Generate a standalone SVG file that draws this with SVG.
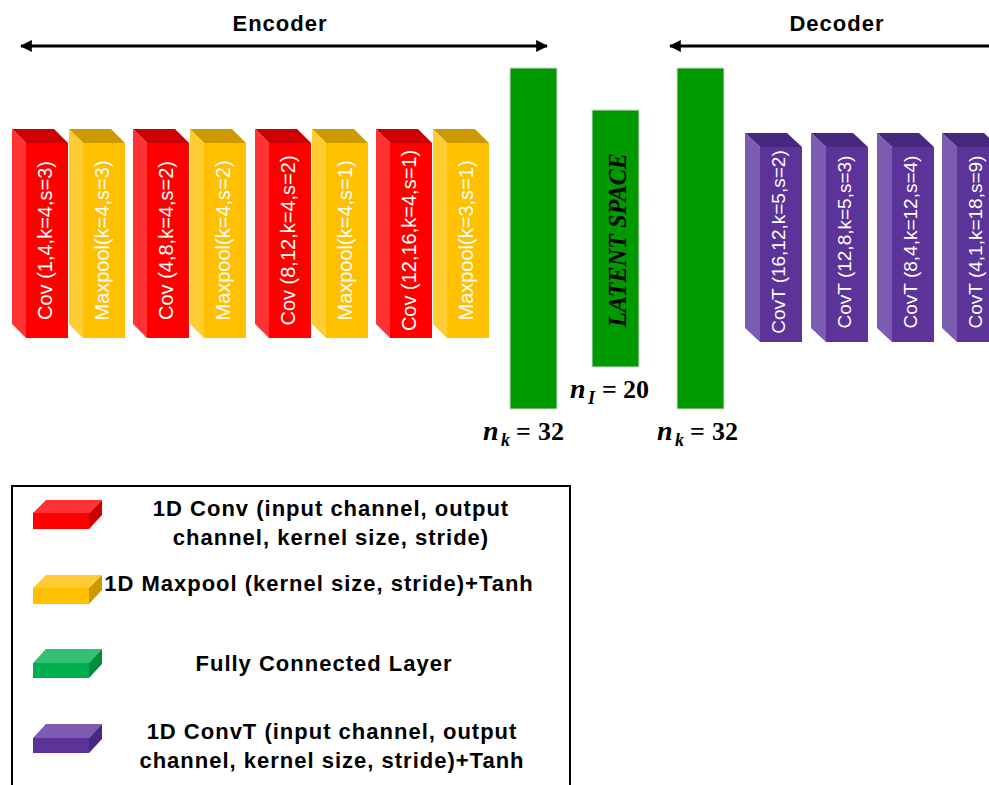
<svg xmlns="http://www.w3.org/2000/svg" width="989" height="785" viewBox="0 0 989 785">
<defs>
<style>
.lbl{font-family:"Liberation Sans",Arial,sans-serif;font-size:20px;fill:#fff;text-anchor:middle}
.dlbl{font-family:"Liberation Sans",Arial,sans-serif;font-size:19px;fill:#fff;text-anchor:middle}
.hd{font-family:"Liberation Sans",Arial,sans-serif;font-size:22px;font-weight:bold;letter-spacing:1px;fill:#000;text-anchor:middle}
.math{font-family:"Liberation Serif","DejaVu Serif",serif;font-weight:bold;fill:#000}
.rf{fill:#FF0000}.rl{fill:#FF3333}.rt{fill:#CC0000}
.yf{fill:#FFC000}.yl{fill:#FFCD33}.yt{fill:#CC9A00}
.pf{fill:#5B3399}.pl{fill:#7B5CB0}.pt{fill:#48287F}
.gf{fill:#00B050}.gl{fill:#33C073}.gt{fill:#008D40}
.fc{fill:#009900;stroke:#d8d8d8;stroke-width:1}
.arr{stroke:#000;stroke-width:3;fill:none}
</style>
<marker id="ah" viewBox="0 0 10 10" refX="9" refY="5" markerWidth="4" markerHeight="4" orient="auto-start-reverse" markerUnits="strokeWidth">
<path d="M0,0 L10,5 L0,10 Z" fill="#000"/>
</marker>
</defs>
<rect width="989" height="785" fill="#fff"/>

<g id="connectors">
<line class="arr" x1="21" y1="46" x2="547" y2="46" marker-start="url(#ah)" marker-end="url(#ah)"/>
<line class="arr" x1="670" y1="46" x2="1000" y2="46" marker-start="url(#ah)" marker-end="url(#ah)"/>
</g>

<g id="headings">
<text class="hd" x="280" y="31">Encoder</text>
<text class="hd" x="837" y="31">Decoder</text>
</g>

<!-- Encoder blocks -->
<g id="conv1">
<polygon class="rt" points="12,129 54,129 68,143 26,143"/>
<polygon class="rl" points="12,129 26,143 26,338 12,324"/>
<rect class="rf" x="26" y="143" width="42" height="195"/>
<text class="lbl" transform="translate(51.5,240.5) rotate(-90)">Cov (1,4,k=4,s=3)</text>
</g>
<g id="pool1">
<polygon class="yt" points="69,129 111,129 125,143 83,143"/>
<polygon class="yl" points="69,129 83,143 83,338 69,324"/>
<rect class="yf" x="83" y="143" width="42" height="195"/>
<text class="lbl" transform="translate(108.5,240.5) rotate(-90)">Maxpool(k=4,s=3)</text>
</g>
<g id="conv2">
<polygon class="rt" points="133,129 175,129 189,143 147,143"/>
<polygon class="rl" points="133,129 147,143 147,338 133,324"/>
<rect class="rf" x="147" y="143" width="42" height="195"/>
<text class="lbl" transform="translate(172.5,240.5) rotate(-90)">Cov (4,8,k=4,s=2)</text>
</g>
<g id="pool2">
<polygon class="yt" points="190,129 232,129 246,143 204,143"/>
<polygon class="yl" points="190,129 204,143 204,338 190,324"/>
<rect class="yf" x="204" y="143" width="42" height="195"/>
<text class="lbl" transform="translate(229.5,240.5) rotate(-90)">Maxpool(k=4,s=2)</text>
</g>
<g id="conv3">
<polygon class="rt" points="255,129 297,129 311,143 269,143"/>
<polygon class="rl" points="255,129 269,143 269,338 255,324"/>
<rect class="rf" x="269" y="143" width="42" height="195"/>
<text class="lbl" transform="translate(294.5,240.5) rotate(-90)">Cov (8,12,k=4,s=2)</text>
</g>
<g id="pool3">
<polygon class="yt" points="312,129 354,129 368,143 326,143"/>
<polygon class="yl" points="312,129 326,143 326,338 312,324"/>
<rect class="yf" x="326" y="143" width="42" height="195"/>
<text class="lbl" transform="translate(351.5,240.5) rotate(-90)">Maxpool(k=4,s=1)</text>
</g>
<g id="conv4">
<polygon class="rt" points="376,129 418,129 432,143 390,143"/>
<polygon class="rl" points="376,129 390,143 390,338 376,324"/>
<rect class="rf" x="390" y="143" width="42" height="195"/>
<text class="lbl" transform="translate(415.5,240.5) rotate(-90)">Cov (12,16,k=4,s=1)</text>
</g>
<g id="pool4">
<polygon class="yt" points="433,129 475,129 489,143 447,143"/>
<polygon class="yl" points="433,129 447,143 447,338 433,324"/>
<rect class="yf" x="447" y="143" width="42" height="195"/>
<text class="lbl" transform="translate(472.5,240.5) rotate(-90)">Maxpool(k=3,s=1)</text>
</g>

<!-- Fully connected + latent -->
<g id="fc1">
<rect class="fc" x="510" y="68" width="47" height="341"/>
<text class="math" font-size="26" x="483" y="440"><tspan font-style="italic" font-size="28">n</tspan><tspan font-style="italic" font-size="18" x="501" dy="6">k</tspan><tspan x="516" dy="-6">=</tspan><tspan x="538">32</tspan></text>
</g>
<g id="latent">
<rect class="fc" x="592" y="110" width="47" height="257"/>
<text class="math" font-style="italic" font-size="25" text-anchor="middle" textLength="174" lengthAdjust="spacingAndGlyphs" transform="translate(626,240) rotate(-90)">LATENT SPACE</text>
<text class="math" font-size="26" x="570" y="398"><tspan font-style="italic" font-size="28">n</tspan><tspan font-style="italic" font-size="18" x="588" dy="6">I</tspan><tspan x="602" dy="-6">=</tspan><tspan x="623">20</tspan></text>
</g>
<g id="fc2">
<rect class="fc" x="677" y="68" width="47" height="341"/>
<text class="math" font-size="26" x="657" y="440"><tspan font-style="italic" font-size="28">n</tspan><tspan font-style="italic" font-size="18" x="675" dy="6">k</tspan><tspan x="690" dy="-6">=</tspan><tspan x="712">32</tspan></text>
</g>

<!-- Decoder blocks -->
<g id="convT1">
<polygon class="pt" points="745,133 787,133 802,147 760,147"/>
<polygon class="pl" points="745,133 760,147 760,342 745,328"/>
<rect class="pf" x="760" y="147" width="42" height="195"/>
<text class="dlbl" transform="translate(785,242) rotate(-90)">CovT (16,12,k=5,s=2)</text>
</g>
<g id="convT2">
<polygon class="pt" points="811,133 853,133 868,147 826,147"/>
<polygon class="pl" points="811,133 826,147 826,342 811,328"/>
<rect class="pf" x="826" y="147" width="42" height="195"/>
<text class="dlbl" transform="translate(851,242) rotate(-90)">CovT (12,8,k=5,s=3)</text>
</g>
<g id="convT3">
<polygon class="pt" points="877,133 919,133 934,147 892,147"/>
<polygon class="pl" points="877,133 892,147 892,342 877,328"/>
<rect class="pf" x="892" y="147" width="42" height="195"/>
<text class="dlbl" transform="translate(917,242) rotate(-90)">CovT (8,4,k=12,s=4)</text>
</g>
<g id="convT4">
<polygon class="pt" points="942,133 984,133 999,147 957,147"/>
<polygon class="pl" points="942,133 957,147 957,342 942,328"/>
<rect class="pf" x="957" y="147" width="42" height="195"/>
<text class="dlbl" transform="translate(982,242) rotate(-90)">CovT (4,1,k=18,s=9)</text>
</g>

<!-- Legend -->
<g id="legend">
<rect x="12" y="486" width="558" height="320" fill="none" stroke="#000" stroke-width="2"/>
<g id="legend-conv">
<polygon class="rl" points="33,513 46,500 102,500 89,513"/>
<polygon class="rt" points="89,513 102,500 102,515 89,529"/>
<rect class="rf" x="33" y="513" width="56" height="16"/>
<text class="hd" x="331" y="516">1D Conv (input channel, output</text>
<text class="hd" x="331" y="545">channel, kernel size, stride)</text>
</g>
<g id="legend-pool">
<polygon class="yl" points="33,588 46,575 102,575 89,588"/>
<polygon class="yt" points="89,588 102,575 102,590 89,604"/>
<rect class="yf" x="33" y="588" width="56" height="16"/>
<text class="hd" x="319" y="591">1D Maxpool (kernel size, stride)+Tanh</text>
</g>
<g id="legend-fc">
<polygon class="gl" points="33,663 46,649 102,649 89,663"/>
<polygon class="gt" points="89,663 102,649 102,664 89,678"/>
<rect class="gf" x="33" y="663" width="56" height="15"/>
<text class="hd" x="324" y="671">Fully Connected Layer</text>
</g>
<g id="legend-convT">
<polygon class="pl" points="33,738 46,724 102,724 89,738"/>
<polygon class="pt" points="89,738 102,724 102,739 89,753"/>
<rect class="pf" x="33" y="738" width="56" height="15"/>
<text class="hd" x="332" y="739">1D ConvT (input channel, output</text>
<text class="hd" x="332" y="768">channel, kernel size, stride)+Tanh</text>
</g>
</g>
</svg>
